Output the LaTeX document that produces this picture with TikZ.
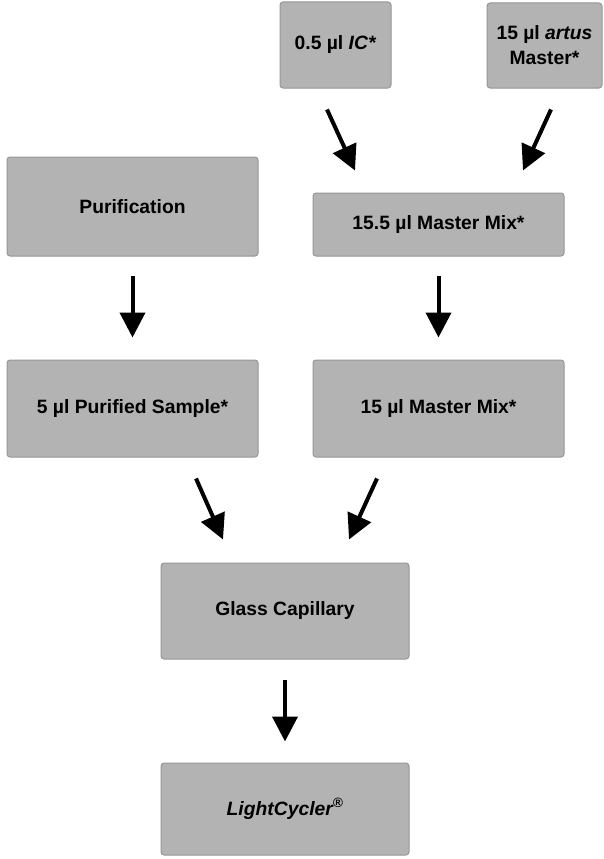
\documentclass[tikz,border=0pt]{standalone}
\usepackage{fontspec}
\setmainfont{Liberation Sans}
\usepackage{tikz}
\usetikzlibrary{arrows.meta}
\definecolor{boxfill}{RGB}{179,179,179}
\definecolor{boxline}{RGB}{150,150,150}

\begin{document}
\begin{tikzpicture}[x=1pt, y=-1pt,
        box/.style={draw=boxline, line width=1pt, fill=boxfill, rounded corners=3pt, inner sep=0pt, align=center, font=\fontsize{19.3}{25}\selectfont\bfseries},
        flow/.style={line width=4pt, -{Triangle[width=25pt, length=25pt]}}]
        \useasboundingbox (0,0) rectangle (604,859);
        \node[box, minimum width=111pt, minimum height=86pt] (IC) at (335.5, 45) {0.5 µl \textit{IC*}};
        \node[box, minimum width=115pt, minimum height=85pt] (artus) at (544.5, 45.5) {15 µl \textit{artus}\\Master*};
        \node[box, minimum width=251pt, minimum height=99pt] (purif) at (132.5, 206.5) {Purification};
        \node[box, minimum width=251pt, minimum height=63pt] (mmA) at (438.5, 224.5) {15.5 µl Master Mix*};
        \node[box, minimum width=251pt, minimum height=97pt] (sample) at (132.5, 408.5) {5 µl Purified Sample*};
        \node[box, minimum width=251pt, minimum height=97pt] (mmB) at (438.5, 408.5) {15 µl Master Mix*};
        \node[box, minimum width=248pt, minimum height=96pt] (glass) at (285, 611) {Glass Capillary};
        \node[box, minimum width=248pt, minimum height=92pt] (lc) at (285, 809) {\textit{LightCycler\textsuperscript{®}}};

        \draw[flow] ([xshift=-8.5pt, yshift=-21pt]IC.south) -- ([xshift=-83.5pt, yshift=22pt]mmA.north);
        \draw[flow] ([xshift=6.5pt, yshift=-21pt]artus.south) -- ([xshift=84.5pt, yshift=22pt]mmA.north);
        \draw[flow] ([yshift=-19pt]purif.south) -- ([yshift=22pt]sample.north);
        \draw[flow] ([yshift=-19pt]mmA.south) -- ([yshift=22pt]mmB.north);
        \draw[flow] ([xshift=63.5pt, yshift=-21pt]sample.south) -- ([xshift=-62pt, yshift=23pt]glass.north);
        \draw[flow] ([xshift=-61.5pt, yshift=-21pt]mmB.south) -- ([xshift=64pt, yshift=23pt]glass.north);
        \draw[flow] ([yshift=-20pt]glass.south) -- ([yshift=21pt]lc.north);
    \end{tikzpicture}
\end{document}
